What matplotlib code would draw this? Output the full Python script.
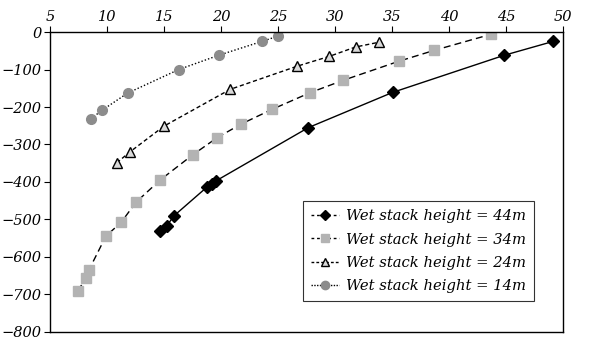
import matplotlib
matplotlib.use("Agg")
import matplotlib.pyplot as plt
from matplotlib.lines import Line2D

# Wet stack height = 44m
x44 = [14.65, 15.24, 15.88, 18.75, 19.18, 19.56, 27.66, 35.06, 44.85, 49.15]
y44 = [-531, -517, -490, -414, -405, -397, -255, -161, -62, -25]

# Wet stack height = 34m
x34 = [7.43, 8.16, 8.39, 9.91, 11.23, 12.54, 14.65, 17.5, 19.65, 21.73,
       24.5, 27.8, 30.7, 35.6, 38.7, 43.7]
y34 = [-690, -657, -636, -544, -508, -454, -395, -328, -282, -246,
       -206, -162, -129, -78, -49, -6]

# Wet stack height = 24m
x24 = [10.85, 12.0, 15.0, 20.8, 26.7, 29.5, 31.8, 33.9]
y24 = [-349, -320, -251, -153, -91, -65, -40, -27]

# Wet stack height = 14m
x14 = [8.6, 9.55, 11.8, 16.3, 19.8, 23.6, 25.0]
y14 = [-231, -209, -163, -100, -62, -25, -11]

labels = ["Wet stack height = 44m", "Wet stack height = 34m",
          "Wet stack height = 24m", "Wet stack height = 14m"]

xticks = [5, 10, 15, 20, 25, 30, 35, 40, 45, 50]
yticks = [0, -100, -200, -300, -400, -500, -600, -700, -800]

plt.rcParams['font.family'] = 'DejaVu Serif'
plt.rcParams['font.style'] = 'italic'

fig = plt.figure(figsize=(5.92, 3.46), dpi=100)
ax = fig.add_axes([0.0845, 0.0405, 0.8665, 0.867])

ax.plot(x44, y44, color='black', lw=1.0, ls='-', marker='D', ms=6,
        mfc='black', mec='black')
ax.plot(x34, y34, color='black', lw=1.0, ls=(0, (5, 3)), marker='s', ms=7,
        mfc='#b3b3b3', mec='#b3b3b3')
ax.plot(x24, y24, color='black', lw=1.0, ls=(0, (3, 2)), marker='^', ms=7.5,
        mfc='#d9d9d9', mec='black', mew=1.0)
ax.plot(x14, y14, color='black', lw=1.0, ls=(0, (1, 1.5)), marker='o', ms=7,
        mfc='#8c8c8c', mec='#8c8c8c')

ax.set_xlim(5, 50)
ax.set_ylim(-800, 0)
ax.set_xticks(xticks)
ax.set_yticks(yticks)
ax.set_yticklabels([f"\u2212{-v}" if v < 0 else str(v) for v in yticks])
ax.xaxis.tick_top()
ax.tick_params(axis='both', direction='out', length=4, width=0.8,
               labelsize=10.5, pad=2)
for s in ax.spines.values():
    s.set_linewidth(1.0)

# legend entries use short dashed segments for every series
handles = [
    Line2D([], [], color='black', lw=1.0, ls=(0, (2, 2)), marker='D', ms=5,
           mfc='black', mec='black'),
    Line2D([], [], color='black', lw=1.0, ls=(0, (2, 2)), marker='s', ms=6,
           mfc='#b3b3b3', mec='#b3b3b3'),
    Line2D([], [], color='black', lw=1.0, ls=(0, (2, 1.5)), marker='^', ms=6,
           mfc='#d9d9d9', mec='black'),
    Line2D([], [], color='black', lw=1.0, ls=(0, (1, 1)), marker='o', ms=6,
           mfc='#8c8c8c', mec='#8c8c8c'),
]
leg = ax.legend(handles, labels, loc='lower right',
                bbox_to_anchor=(0.958, 0.079), fontsize=10.6, frameon=True,
                fancybox=False, edgecolor='black', handlelength=1.9,
                handletextpad=0.45, borderpad=0.55, labelspacing=0.62)
leg.get_frame().set_linewidth(0.8)

fig.savefig("out.png", dpi=100)
